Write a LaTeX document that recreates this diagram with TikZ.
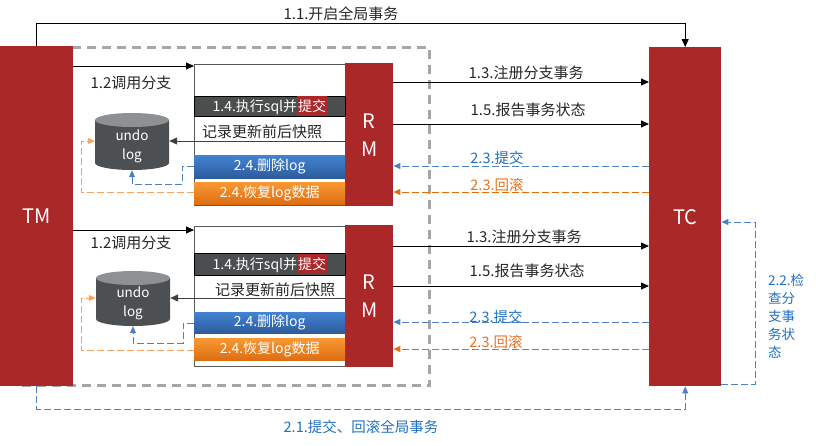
\documentclass[tikz,border=0pt]{standalone}
\usepackage{fontspec}
\setmainfont{Noto Sans CJK SC}
\usetikzlibrary{arrows.meta}
\definecolor{tmred}{HTML}{AB2828}
\definecolor{dkbar}{HTML}{4A4E4F}
\definecolor{cylbody}{HTML}{4C5052}
\definecolor{cyltop}{HTML}{8E9192}
\definecolor{bTop}{HTML}{4283D2}
\definecolor{bBot}{HTML}{2D5C9C}
\definecolor{oTop}{HTML}{FA9834}
\definecolor{oBot}{HTML}{DC6E13}
\definecolor{lblue}{HTML}{4E80C0}
\definecolor{sblue}{HTML}{4F7FBF}
\definecolor{lorange}{HTML}{E36C0A}
\definecolor{llorange}{HTML}{F7A35C}
\definecolor{tblue}{HTML}{1F70C1}
\definecolor{torange}{HTML}{E8721C}
\definecolor{dgray}{HTML}{A6A6A6}
\definecolor{boxgray}{HTML}{595959}
\newcommand\redhl[1]{{\setlength{\fboxsep}{0pt}\colorbox{tmred}{\rule[-5pt]{0pt}{20pt}\hspace{1pt}#1\hspace{1pt}}}}
\begin{document}
\begin{tikzpicture}[x=1pt,y=-1pt,
  lbl/.style={font=\fontsize{15}{17}\selectfont, inner sep=0pt, text=black!85},
  slbl/.style={lbl, font=\fontsize{14.5}{17}\selectfont},
  blbl/.style={slbl, text=tblue},
  olbl/.style={slbl, text=torange},
  redbox/.style={fill=tmred, inner sep=0pt, text=white, font=\fontsize{20}{28}\selectfont, align=center},
  wbox/.style={draw=boxgray, line width=0.8pt, fill=white, inner sep=0pt, minimum width=151pt},
  barbox/.style={inner sep=0pt, minimum width=151pt, text=white, font=\fontsize{14}{15}\selectfont},
  darkbar/.style={barbox, fill=dkbar, draw=black, line width=0.8pt},
  bluebar/.style={barbox, top color=bTop, bottom color=bBot},
  orangebar/.style={barbox, top color=oTop, bottom color=oBot},
  cyltext/.style={font=\fontsize{13.5}{19}\selectfont, text=white, align=center, inner sep=0pt},
  arr/.style={-{Triangle[length=8pt,width=7pt]}, line width=0.9pt, draw=black},
  garr/.style={arr, draw=black!75},
  bdash/.style={-{Triangle[length=7pt,width=6pt]}, line width=0.9pt, draw=lblue, dash pattern=on 7pt off 3pt},
  odash/.style={bdash, draw=lorange},
  lodash/.style={bdash, draw=llorange},
  sbdash/.style={bdash, draw=sblue}
]
\useasboundingbox (0,0) rectangle (816,445);

% frame
\node[draw=dgray, line width=3pt, dash pattern=on 9pt off 6pt, minimum width=408pt, minimum height=338pt, inner sep=0pt, anchor=north west] (frame) at (20,46) {};

% TM and TC
\node[redbox, minimum width=73pt, minimum height=340pt, anchor=north west] (TM) at (0,46) {TM};
\node[redbox, minimum width=72pt, minimum height=339pt, anchor=north west] (TC) at (649,47) {TC};

% ---------- group 1 ----------
\node[wbox, minimum height=141pt, anchor=north west] (box1) at (194,64) {};
\node[redbox, minimum width=48pt, minimum height=143pt, anchor=north west] (RM1) at (345,63) {R\\M};
\node[darkbar, minimum height=20pt, anchor=north west] (exe1) at (194,96) {1.4.执行sql并\redhl{提交}};
\node[lbl] (snap1) at (262,132) {记录更新前后快照};
\node[bluebar, minimum height=23pt, anchor=north west] (del1) at (194,155) {2.4.删除log};
\node[orangebar, minimum height=22pt, anchor=north west] (rec1) at (194,182) {2.4.恢复log数据};

\fill[cylbody] (95,120) -- (95,163) arc[start angle=180,end angle=360,x radius=37pt,y radius=7pt] -- (169,120) -- cycle;
\fill[cyltop] (132,120) ellipse[x radius=37pt, y radius=7pt];
\node[inner sep=0pt, minimum width=74pt, minimum height=57pt] (cyl1) at (132,141.5) {};
\node[cyltext] (cyl1t) at (132,146) {undo\\log};

\draw[arr] (TM.east |- 0,66) -- (box1.west |- 0,66);
\node[lbl] (l12a) at (131,83) {1.2调用分支};
\draw[garr] (RM1.west |- 0,141) -- (cyl1.east |- 0,141);
\draw[sbdash] (del1.west |- 0,166) -- (182,166) -- (182,184) -- (132,184) -- (cyl1.south);
\draw[lodash] (rec1.west |- 0,192) -- (81,192) -- (81,141) -- (cyl1.west |- 0,141);

\draw[arr] (RM1.east |- 0,82) -- (TC.west |- 0,82);
\node[lbl] (l13a) at (526,73) {1.3.注册分支事务};
\draw[arr] (RM1.east |- 0,124) -- (TC.west |- 0,124);
\node[lbl] (l15a) at (528,110) {1.5.报告事务状态};
\draw[bdash] (TC.west |- 0,166) -- (RM1.east |- 0,166);
\node[blbl] (l23ca) at (497,158) {2.3.提交};
\draw[odash] (TC.west |- 0,192) -- (RM1.east |- 0,192);
\node[olbl] (l23ra) at (497,185) {2.3.回滚};

% ---------- group 2 ----------
\node[wbox, minimum height=140pt, anchor=north west] (box2) at (194,226) {};
\node[redbox, minimum width=48pt, minimum height=142pt, anchor=north west] (RM2) at (345,225) {R\\M};
\node[darkbar, minimum height=22pt, anchor=north west] (exe2) at (194,253) {1.4.执行sql并\redhl{提交}};
\node[lbl] (snap2) at (275,290) {记录更新前后快照};
\node[bluebar, minimum height=21pt, anchor=north west] (del2) at (194,312) {2.4.删除log};
\node[orangebar, minimum height=22pt, anchor=north west] (rec2) at (194,338) {2.4.恢复log数据};

\fill[cylbody] (96,278) -- (96,319) arc[start angle=180,end angle=360,x radius=37pt,y radius=7pt] -- (170,278) -- cycle;
\fill[cyltop] (133,278) ellipse[x radius=37pt, y radius=7pt];
\node[inner sep=0pt, minimum width=74pt, minimum height=55pt] (cyl2) at (133,298.5) {};
\node[cyltext] (cyl2t) at (133,303) {undo\\log};

\draw[arr] (TM.east |- 0,230) -- (box2.west |- 0,230);
\node[lbl] (l12b) at (131,243) {1.2调用分支};
\draw[garr] (RM2.west |- 0,298) -- (cyl2.east |- 0,298);
\draw[sbdash] (del2.west |- 0,323) -- (183,323) -- (183,343) -- (133,343) -- (cyl2.south);
\draw[lodash] (rec2.west |- 0,350) -- (81,350) -- (81,298) -- (cyl2.west |- 0,298);

\draw[arr] (RM2.east |- 0,246) -- (TC.west |- 0,246);
\node[lbl] (l13b) at (524,237) {1.3.注册分支事务};
\draw[arr] (RM2.east |- 0,286) -- (TC.west |- 0,286);
\node[lbl] (l15b) at (527,271) {1.5.报告事务状态};
\draw[bdash] (TC.west |- 0,322) -- (RM2.east |- 0,322);
\node[blbl] (l23cb) at (496,317) {2.3.提交};
\draw[odash] (TC.west |- 0,349) -- (RM2.east |- 0,349);
\node[olbl] (l23rb) at (496,342) {2.3.回滚};

% ---------- global ----------
\draw[arr] (TM.north) -- (TM.north |- 0,23) -- (TC.north |- 0,23) -- (TC.north);
\node[lbl] (l11) at (341,14) {1.1.开启全局事务};

\draw[bdash] (TM.south) -- (TM.south |- 0,409) -- (TC.south |- 0,409) -- (TC.south);
\node[blbl] (l21) at (361,427) {2.1.提交、回滚全局事务};

\draw[bdash] (TC.east |- 0,384) -- (755,384) -- (755,222) -- (TC.east |- 0,222);
\node[blbl, font=\fontsize{13.5}{18}\selectfont, align=left, anchor=west] (l22) at (768,316) {2.2.检\\查分\\支事\\务状\\态};
\end{tikzpicture}
\end{document}
